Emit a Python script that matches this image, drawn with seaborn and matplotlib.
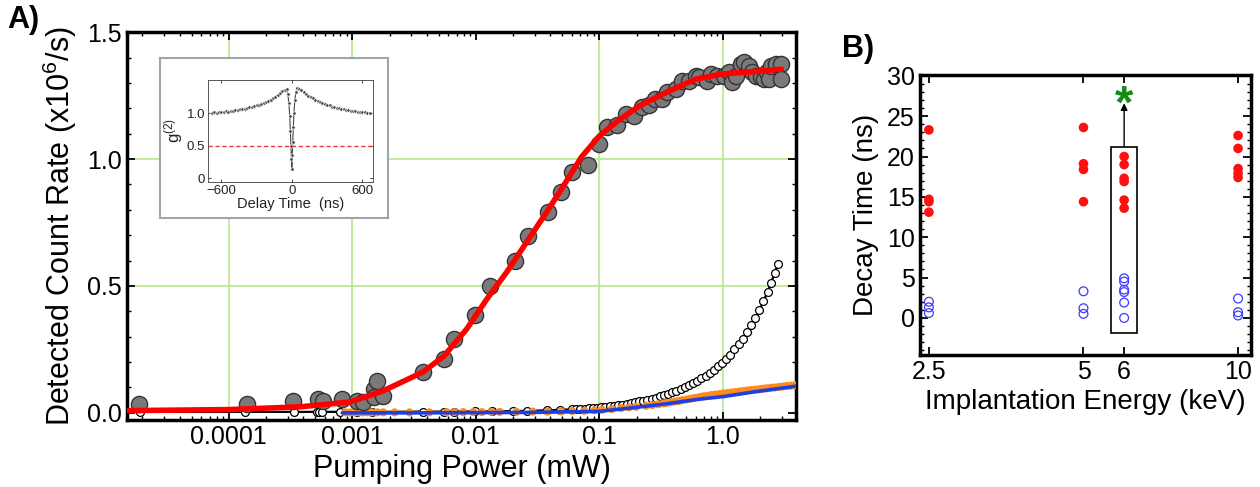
import numpy as np
import pandas as pd
import matplotlib
matplotlib.use("Agg")
import matplotlib.pyplot as plt
import seaborn as sns
from matplotlib.patches import Rectangle
from matplotlib.ticker import FixedLocator, NullLocator, MultipleLocator, LogLocator, NullFormatter

# ---------------- data: panel A (saturation curve) ----------------
gray_power = [1.88e-5, 1.40e-4, 3.34e-4, 5.3e-4, 5.8e-4, 8.2e-4, 1.10e-3, 1.23e-3,
              1.50e-3, 1.50e-3, 1.59e-3, 1.78e-3, 3.74e-3, 5.52e-3, 6.65e-3, 9.8e-3,
              0.0130, 0.0206, 0.0263, 0.0381, 0.0485, 0.0605, 0.0815, 0.100,
              0.116, 0.140, 0.165, 0.191, 0.222, 0.253, 0.283, 0.322,
              0.353, 0.418, 0.467, 0.532, 0.606, 0.640, 0.743, 0.800,
              0.895, 1.02, 1.12, 1.18, 1.27, 1.40, 1.48, 1.62,
              1.71, 1.85, 2.03, 2.14, 2.26, 2.35, 2.44, 2.67,
              2.94, 2.94]
gray_rate = [0.035, 0.035, 0.047, 0.055, 0.047, 0.055, 0.047, 0.043,
             0.095, 0.063, 0.126, 0.067, 0.161, 0.213, 0.291, 0.386,
             0.500, 0.598, 0.697, 0.791, 0.870, 0.949, 0.976, 1.059,
             1.126, 1.134, 1.177, 1.169, 1.205, 1.213, 1.236, 1.236,
             1.264, 1.276, 1.307, 1.307, 1.327, 1.323, 1.307, 1.335,
             1.327, 1.327, 1.343, 1.303, 1.327, 1.374, 1.382, 1.366,
             1.343, 1.327, 1.323, 1.315, 1.343, 1.315, 1.366, 1.374,
             1.374, 1.315]

fit_power = [1.53e-5, 1e-4, 3.81e-4, 9.64e-4, 1.78e-3, 3.74e-3, 5.52e-3, 8.45e-3,
             0.0123, 0.0178, 0.0258, 0.0374, 0.0476, 0.0716, 0.1, 0.137,
             0.210, 0.367, 0.605, 0.982, 1.62, 2.99]
fit_rate = [0.009, 0.013, 0.024, 0.043, 0.087, 0.161, 0.224, 0.331,
            0.449, 0.555, 0.673, 0.791, 0.870, 1.008, 1.091, 1.146,
            1.209, 1.268, 1.315, 1.335, 1.343, 1.354]

open_power = [1.9e-5, 1.35e-4, 3.4e-4, 5.2e-4, 5.4e-4, 5.7e-4, 8.0e-4, 1.1e-3,
              1.45e-3, 3.7e-3, 5.5e-3, 6.6e-3, 9.8e-3, 0.0135, 0.020, 0.026,
              0.038, 0.048, 0.060, 0.065, 0.070, 0.076, 0.082, 0.089,
              0.096, 0.104, 0.112, 0.121, 0.131, 0.142, 0.153, 0.166,
              0.179, 0.194, 0.210, 0.226, 0.245, 0.265, 0.286, 0.310,
              0.335, 0.362, 0.390, 0.420, 0.455, 0.490, 0.530, 0.575,
              0.620, 0.670, 0.725, 0.780, 0.845, 0.910, 0.985, 1.06,
              1.15, 1.24, 1.34, 1.45, 1.56, 1.69, 1.82, 1.97,
              2.13, 2.30, 2.45, 2.62, 2.78]
open_rate = [0.004, 0.004, 0.004, 0.004, 0.004, 0.004, 0.004, 0.004,
             0.004, 0.005, 0.005, 0.005, 0.006, 0.006, 0.007, 0.008,
             0.010, 0.012, 0.014, 0.015, 0.016, 0.017, 0.018, 0.020,
             0.021, 0.023, 0.025, 0.027, 0.029, 0.031, 0.033, 0.036,
             0.038, 0.041, 0.045, 0.048, 0.052, 0.056, 0.060, 0.065,
             0.070, 0.075, 0.081, 0.087, 0.094, 0.101, 0.109, 0.117,
             0.126, 0.136, 0.147, 0.158, 0.170, 0.183, 0.197, 0.212,
             0.230, 0.250, 0.270, 0.293, 0.318, 0.345, 0.372, 0.405,
             0.440, 0.478, 0.512, 0.550, 0.587]

orange_power = [8.8e-4, 9.6e-4, 1.04e-3, 1.12e-3, 1.22e-3, 1.32e-3, 1.44e-3, 1.6e-3,
                1.78e-3, 2.2e-3, 2.9e-3, 4.2e-3, 5.8e-3, 6.7e-3, 7.9e-3, 9.5e-3,
                0.0112, 0.0134, 0.0156, 0.0213, 0.0288, 0.0381, 0.0491, 0.0603,
                0.0755, 0.091, 0.105, 0.126, 0.150, 0.174, 0.198, 0.239,
                0.268, 0.30, 0.33, 0.35, 0.38, 0.41, 0.44, 0.47,
                0.51, 0.55, 0.59, 0.64, 0.69, 0.74, 0.80, 0.86,
                0.93, 1.00, 1.08, 1.16, 1.25, 1.35, 1.45, 1.56,
                1.68, 1.81, 1.95, 2.10, 2.26, 2.44, 2.63, 2.83,
                3.05, 3.28, 3.54, 3.81, 4.10]
orange_rate = [0.002, 0.002, 0.002, 0.002, 0.002, 0.002, 0.002, 0.002,
               0.002, 0.002, 0.002, 0.002, 0.003, 0.003, 0.003, 0.003,
               0.003, 0.004, 0.004, 0.004, 0.005, 0.005, 0.006, 0.007,
               0.008, 0.010, 0.012, 0.015, 0.019, 0.022, 0.024, 0.028,
               0.031, 0.034, 0.037, 0.039, 0.042, 0.045, 0.047, 0.050,
               0.053, 0.056, 0.059, 0.062, 0.065, 0.067, 0.070, 0.072,
               0.074, 0.076, 0.078, 0.080, 0.082, 0.084, 0.086, 0.088,
               0.090, 0.092, 0.093, 0.095, 0.097, 0.099, 0.100, 0.102,
               0.104, 0.106, 0.107, 0.109, 0.111]

blue_power = [8.3e-4, 3e-3, 0.01, 0.03, 0.1, 0.185, 0.35, 0.64, 1.0, 1.8, 3.5, 4.2]
blue_rate = [0.0, 0.0, 0.001, 0.002, 0.006, 0.020, 0.036, 0.054, 0.064, 0.083, 0.102, 0.108]

# inset g2(t)
g2_delay = [-680, -660, -640, -620, -600, -580, -560, -540, -520, -500, -480, -460,
            -440, -420, -400, -380, -360, -340, -320, -300, -280, -260, -240, -220,
            -200, -180, -160, -140, -120, -100, -80, -60, -45, -35, -25, -18,
            -12, -8, -4, 0, 4, 8, 12, 18, 25, 35, 45, 60,
            80, 100, 120, 140, 160, 180, 200, 220, 240, 260, 280, 300,
            320, 340, 360, 380, 400, 420, 440, 460, 480, 500, 520, 540,
            560, 580, 600, 620, 640, 660]
g2_value = [1.00, 1.01, 1.00, 1.01, 1.02, 1.01, 1.03, 1.02, 1.04, 1.04, 1.05, 1.05,
            1.06, 1.07, 1.07, 1.08, 1.09, 1.10, 1.11, 1.12, 1.13, 1.14, 1.16, 1.17,
            1.19, 1.21, 1.23, 1.25, 1.28, 1.31, 1.34, 1.36, 1.37, 1.30, 1.15, 0.95,
            0.72, 0.50, 0.30, 0.14, 0.35, 0.55, 0.78, 1.00, 1.20, 1.33, 1.38, 1.37,
            1.35, 1.32, 1.30, 1.27, 1.25, 1.23, 1.21, 1.19, 1.17, 1.16, 1.14, 1.13,
            1.12, 1.10, 1.09, 1.08, 1.08, 1.07, 1.06, 1.05, 1.05, 1.04, 1.04, 1.03,
            1.02, 1.02, 1.01, 1.01, 1.00, 1.00]

# ---------------- data: panel B (decay times) ----------------
red_energy = [2.5, 2.5, 2.5, 2.5, 5, 5, 5, 5, 6, 6, 6, 6, 6, 6, 10, 10, 10, 10, 10]
red_decay = [23.3, 14.7, 14.4, 13.1, 23.6, 19.1, 18.4, 14.4,
             20.0, 19.0, 17.3, 16.9, 14.6, 13.6, 22.6, 21.0, 18.5, 17.9, 17.4]
blue_energy = [2.5, 2.5, 2.5, 5, 5, 5, 6, 6, 6, 6, 6, 6, 10, 10, 10]
blue_decay = [2.0, 1.3, 0.6, 3.3, 1.2, 0.5, 4.9, 4.5, 3.5, 3.2, 1.9, 0.0, 2.4, 0.7, 0.3]

a_xticks = [1e-4, 1e-3, 1e-2, 1e-1, 1.0]
a_xticklabels = ["0.0001", "0.001", "0.01", "0.1", "1.0"]
a_grid_x = [1e-4, 1e-3, 1e-1, 1.0]
a_grid_y = [0.5, 1.0]
b_xticks = [2.5, 5, 6, 10]
b_xticklabels = ["2.5", "5", "6", "10"]

# ---------------- style ----------------
sns.set_style("ticks")
plt.rcParams['font.family'] = ['Liberation Sans', 'DejaVu Sans']
plt.rcParams['mathtext.fontset'] = 'custom'
plt.rcParams['mathtext.rm'] = 'Liberation Sans'
plt.rcParams['mathtext.it'] = 'Liberation Sans:italic'
plt.rcParams['mathtext.bf'] = 'Liberation Sans:bold'
plt.rcParams['mathtext.default'] = 'regular'
for key in ['text.color', 'axes.labelcolor', 'xtick.color', 'ytick.color', 'axes.edgecolor']:
    plt.rcParams[key] = 'black'

fig = plt.figure(figsize=(12.6, 4.87), dpi=100)

# ---------------- panel A ----------------
axA = fig.add_axes([0.1008, 0.1376, 0.5309, 0.7964])
axA.set_xscale('log')
for gx in a_grid_x:
    axA.axvline(gx, color='#b8e68c', lw=1.2, zorder=0)
for gy in a_grid_y:
    axA.axhline(gy, color='#b8e68c', lw=1.2, zorder=0)

sns.lineplot(x=open_power, y=open_rate, ax=axA, color='black', lw=1.6,
             estimator=None, zorder=2)
sns.scatterplot(x=open_power, y=open_rate, ax=axA, s=32, facecolor='white',
                edgecolor='black', linewidth=0.9, zorder=2.5)
sns.scatterplot(x=orange_power, y=orange_rate, ax=axA, s=34, color='#ff8c1a',
                edgecolor='none', zorder=3)
sns.lineplot(x=blue_power, y=blue_rate, ax=axA, color='#1f3fe6', lw=2.6,
             estimator=None, zorder=3.5)
sns.scatterplot(x=gray_power, y=gray_rate, ax=axA, s=135, color='#7a7a7a',
                edgecolor='#333333', linewidth=1.0, zorder=4)
sns.lineplot(x=fit_power, y=fit_rate, ax=axA, color='red', lw=4,
             estimator=None, zorder=5)

axA.set_xlim(1.5e-5, 3.9)
axA.set_ylim(-0.028, 1.5)
axA.xaxis.set_major_locator(FixedLocator(a_xticks))
axA.set_xticklabels(a_xticklabels)
axA.xaxis.set_minor_locator(LogLocator(base=10, subs=np.arange(2, 10)))
axA.xaxis.set_minor_formatter(NullFormatter())
axA.set_yticks([0, 0.5, 1.0, 1.5])
axA.set_yticklabels(["0.0", "0.5", "1.0", "1.5"])
axA.yaxis.set_minor_locator(MultipleLocator(0.1))
axA.tick_params(which='both', direction='in', top=True, right=True, labelsize=18)
axA.tick_params(which='major', length=6, width=1.3)
axA.tick_params(which='minor', length=3, width=1.0)
for sp in axA.spines.values():
    sp.set_linewidth(2.5)
axA.set_xlabel("Pumping Power (mW)", fontsize=22, labelpad=4)
axA.set_ylabel("Detected Count Rate (x10$^6$/s)", fontsize=22, labelpad=6)

# inset
box = fig.add_axes([0.127, 0.552, 0.181, 0.3285])
box.set_xticks([])
box.set_yticks([])
box.set_facecolor('white')
for sp in box.spines.values():
    sp.set_linewidth(1.5)
    sp.set_color('#a0a4ac')

ins = fig.add_axes([0.1651, 0.6263, 0.131, 0.2094])
sns.lineplot(x=g2_delay, y=g2_value, ax=ins, color='#444444', lw=0.8,
             marker='o', markersize=2.5, markeredgewidth=0.5, estimator=None)
ins.axhline(0.5, color='#ee3333', lw=1.0, ls=(0, (3, 2)))
ins.set_xlim(-712, 690)
ins.set_ylim(-0.06, 1.51)
ins.set_xticks([-600, 0, 600])
ins.set_yticks([0, 0.5, 1.0])
ins.set_yticklabels(["0", "0.5", "1.0"])
ins.tick_params(direction='in', top=True, right=True, labelsize=9.5,
                length=2.5, width=0.6, pad=2, colors='#222222')
for sp in ins.spines.values():
    sp.set_linewidth(0.7)
    sp.set_color('#555555')
ins.set_xlabel("Delay Time  (ns)", fontsize=10.5, labelpad=0, color='#222222')
ins.set_ylabel("g$^{(2)}$", fontsize=12, labelpad=1, color='#222222')

# ---------------- panel B ----------------
axB = fig.add_axes([0.730, 0.271, 0.2629, 0.575])
axB.set_xscale('log')
sns.scatterplot(x=red_energy, y=red_decay, ax=axB, s=48, color='#ff1010',
                edgecolor='none', zorder=3)
sns.scatterplot(x=blue_energy, y=blue_decay, ax=axB, s=40, facecolor='none',
                edgecolor='#3b3bff', linewidth=0.9, zorder=3)
axB.add_patch(Rectangle((5.66, -1.85), 0.70, 23.05, fill=False,
                        edgecolor='black', lw=1.2, zorder=2))
axB.annotate("", xy=(6, 26.6), xytext=(6, 21.2),
             arrowprops=dict(arrowstyle='-|>', color='black', lw=1.0,
                             mutation_scale=10, shrinkA=0, shrinkB=0))
axB.text(6, 29.0, "*", color='#178a17', fontsize=34, fontweight='bold',
         ha='center', va='top')

axB.set_xlim(2.4, 10.6)
axB.set_ylim(-4.6, 30.1)
axB.xaxis.set_major_locator(FixedLocator(b_xticks))
axB.set_xticklabels(b_xticklabels)
axB.xaxis.set_minor_locator(NullLocator())
axB.set_yticks([0, 5, 10, 15, 20, 25, 30])
axB.yaxis.set_minor_locator(MultipleLocator(1))
axB.tick_params(which='both', direction='in', top=True, right=True, labelsize=18)
axB.tick_params(which='major', length=6, width=1.3)
axB.tick_params(which='minor', length=3, width=1.0)
for sp in axB.spines.values():
    sp.set_linewidth(2.5)
axB.set_xlabel("Implantation Energy (keV)", fontsize=20, labelpad=4)
axB.set_ylabel("Decay Time (ns)", fontsize=20, labelpad=6)

fig.text(0.006, 0.99, "A)", fontsize=22, fontweight='bold', va='top')
fig.text(0.668, 0.93, "B)", fontsize=22, fontweight='bold', va='top')

fig.savefig("out.png", dpi=100)
